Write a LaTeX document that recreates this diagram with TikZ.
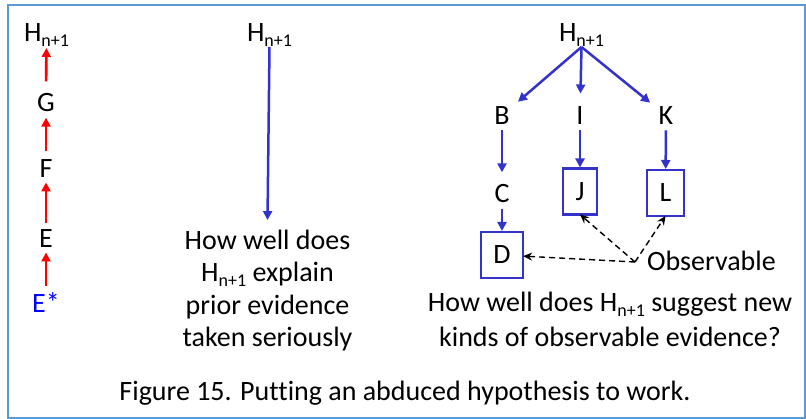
\documentclass[tikz,border=0pt]{standalone}
\usepackage{fontspec}
\setmainfont{Carlito}[Ligatures=NoCommon]
\usetikzlibrary{arrows.meta}
\definecolor{frameblue}{RGB}{91,155,213}
\definecolor{arrowblue}{RGB}{51,51,204}
\definecolor{estarblue}{RGB}{0,0,255}
\newcommand\Hsub{H\raisebox{-5pt}{\fontsize{18}{18}\selectfont n+1}}
\begin{document}
\begin{tikzpicture}[x=1pt,y=-1pt,
  lbl/.style={inner sep=0pt, outer sep=0pt, font=\fontsize{28}{32.5}\selectfont},
  txtblock/.style={lbl, align=center},
  redarr/.style={draw=red, line width=2.6pt, -{Triangle[length=9pt,width=9pt]}},
  bluearr/.style={draw=arrowblue, line width=2.5pt, -{Triangle[length=9pt,width=9pt]}},
  obsbox/.style={lbl, draw=arrowblue, line width=2.6pt, inner xsep=12.5pt, minimum height=46pt},
  dasharr/.style={draw=black, dashed, dash pattern=on 6pt off 4pt, line width=1.4pt, -{Stealth[length=9pt,width=8pt]}}
]
\useasboundingbox (0,0) rectangle (806,419);
\draw[frameblue, line width=2.6pt] (8,5) rectangle (805,418);

% left column
\node[lbl, anchor=base west] (hl) at (24,42) {\Hsub};
\node[lbl] (g) at (46,102.5) {G};
\node[lbl] (f) at (46,168.5) {F};
\node[lbl] (e) at (46,238.5) {E};
\node[lbl, text=estarblue] (estar) at (46,303) {E*};
\draw[redarr, shorten <=7pt, shorten >=5pt] (estar) -- (e);
\draw[redarr, shorten <=7pt, shorten >=5pt] (e) -- (f);
\draw[redarr, shorten <=9pt, shorten >=6pt] (f) -- (g);
\draw[redarr, shorten <=12pt, shorten >=1pt] (g) -- (hl);

% middle column
\node[lbl, anchor=base west] (hm) at (247,42) {\Hsub};
\node[txtblock, anchor=base] (q1) at (267.5,347) {How well does\\ \Hsub{} explain\\ prior evidence\\ taken seriously};
\draw[bluearr] (hm.south) -- ([yshift=10pt]q1.north);

% right column
\node[lbl, anchor=base west] (hr) at (559,42) {\Hsub};
\node[lbl] (b) at (502,115.5) {B};
\node[lbl] (i) at (580,115.5) {I};
\node[lbl] (k) at (666,115.5) {K};
\node[lbl] (c) at (502,193.5) {C};
\node[obsbox] (d) at (502,255) {D};
\node[obsbox] (j) at (580,191.5) {J};
\node[obsbox] (l) at (665.5,193) {L};
\draw[bluearr, shorten >=11pt] (hr.south) -- (b);
\draw[bluearr, shorten >=13pt] (hr.south) -- (i);
\draw[bluearr, shorten >=11pt] (hr.south) -- (k);
\draw[bluearr, shorten <=6pt, shorten >=12pt] (b) -- (c);
\draw[bluearr, shorten <=6pt, shorten >=1pt] (c) -- (d);
\draw[bluearr, shorten <=6pt, shorten >=1pt] (i) -- (j);
\draw[bluearr, shorten <=6pt, shorten >=1pt] (k) -- (l);

\node[lbl, anchor=base west] (obstext) at (647,271) {Observable};
\coordinate (obs) at (635,262);
\draw[dasharr] (obs) -- (d);
\draw[dasharr] (obs) -- (j.south);
\draw[dasharr] (obs) -- (l.south);

\node[txtblock, anchor=base] (q2) at (610,347) {How well does \Hsub{} suggest new\\[2.5pt] kinds of observable evidence?};

% caption
\node[lbl, anchor=base] (cap) at (405,401) {Figure 15. Putting an abduced hypothesis to work.};
\end{tikzpicture}
\end{document}
